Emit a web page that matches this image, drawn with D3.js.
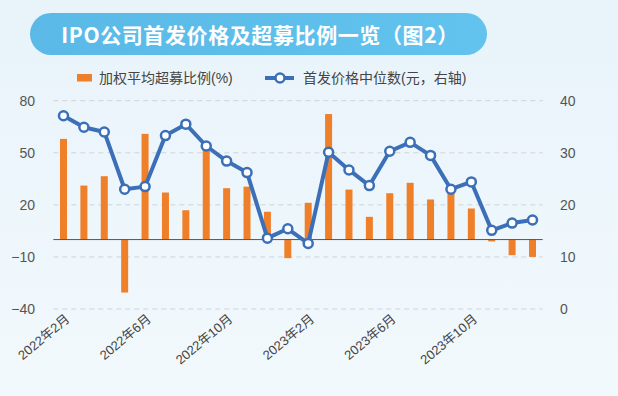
<!DOCTYPE html>
<html><head><meta charset="utf-8">
<script src="https://cdn.jsdelivr.net/npm/d3@7"></script>
<style>
html,body{margin:0;padding:0;background:#eef6fb;}
svg{display:block;}
</style></head>
<body>
<script>
const months = ["2022年2月","2022年3月","2022年4月","2022年5月","2022年6月","2022年7月","2022年8月","2022年9月","2022年10月","2022年11月","2022年12月","2023年1月","2023年2月","2023年3月","2023年4月","2023年5月","2023年6月","2023年7月","2023年8月","2023年9月","2023年10月","2023年11月","2023年12月","2024年1月"];
const overRaise = [58.0,31.1,36.5,-30.5,60.9,27.1,16.9,51.7,29.6,30.5,16.0,-10.7,21.2,72.3,28.8,13.1,26.7,32.7,23.1,26.7,17.9,-1.1,-9.0,-10.0];
const medianPrice = [37.1,34.9,34.0,23.0,23.5,33.3,35.5,31.3,28.4,26.2,13.6,15.4,12.6,30.1,26.7,23.7,30.3,32.0,29.5,23.0,24.4,15.1,16.5,17.1];
const leftTicks = [-40,-10,20,50,80];
const rightTicks = [0,10,20,30,40];
const tickMonths = ["2022年2月","2022年6月","2022年10月","2023年2月","2023年6月","2023年10月"];
const title = "IPO公司首发价格及超募比例一览（图2）";
const legendBar = "加权平均超募比例(%)";
const legendLine = "首发价格中位数(元，右轴)";

const W=618,H=396;
const orange="#f07f2a", blue="#3b6fb8";
const font="'Liberation Sans','Noto Sans CJK SC',sans-serif";

const svg=d3.select("body").append("svg").attr("width",W).attr("height",H);
const defs=svg.append("defs");
const bg=defs.append("linearGradient").attr("id","bg").attr("x1",0).attr("y1",0).attr("x2",0).attr("y2",1);
bg.append("stop").attr("offset","0%").attr("stop-color","#e8f3fa");
bg.append("stop").attr("offset","100%").attr("stop-color","#f2f9fd");
svg.append("rect").attr("width",W).attr("height",H).attr("fill","url(#bg)");

// title pill
const pg=defs.append("linearGradient").attr("id","pill").attr("x1",0).attr("y1",0).attr("x2",1).attr("y2",0);
pg.append("stop").attr("offset","0%").attr("stop-color","#5ab9e6");
pg.append("stop").attr("offset","100%").attr("stop-color","#62c3ee");
svg.append("rect").attr("x",30).attr("y",13).attr("width",457).attr("height",42).attr("rx",21)
  .attr("fill","url(#pill)");
svg.append("text").attr("x",260).attr("y",34).attr("text-anchor","middle").attr("dominant-baseline","central")
  .attr("fill","#fff").attr("font-family","'Noto Sans CJK SC',sans-serif").attr("font-weight","bold")
  .attr("font-size",21).attr("letter-spacing",0.6).text(title);

// scales
const x=d3.scaleBand().domain(months).range([53.3,542.7]).padding(0);
const yL=d3.scaleLinear().domain([-40,80]).range([309,100.7]);
const yR=d3.scaleLinear().domain([0,40]).range([309,100.7]);

// grid
svg.append("g").selectAll("line").data(leftTicks).join("line")
  .attr("x1",53.3).attr("x2",542.7).attr("y1",d=>yL(d)).attr("y2",d=>yL(d))
  .attr("stroke","#cfd4d8").attr("stroke-width",1).attr("stroke-dasharray","5,4");

// left axis
const axL=d3.axisLeft(yL).tickValues(leftTicks).tickSize(0).tickPadding(0)
  .tickFormat(d=>d<0?"\u2212"+Math.abs(d):d);
const gL=svg.append("g").attr("transform","translate(35,0)").call(axL);
gL.select(".domain").remove();
gL.selectAll("text").attr("font-size",14).attr("font-family",font).attr("fill","#555");

const axR=d3.axisRight(yR).tickValues(rightTicks).tickSize(0).tickPadding(0);
const gR=svg.append("g").attr("transform","translate(560,0)").call(axR);
gR.select(".domain").remove();
gR.selectAll("text").attr("font-size",14).attr("font-family",font).attr("fill","#555");

// bars
const bw=7;
svg.append("g").selectAll("rect").data(months).join("rect")
  .attr("x",(d)=>x(d)+x.bandwidth()/2-bw/2)
  .attr("width",bw)
  .attr("y",(d,i)=>Math.min(yL(overRaise[i]),yL(0)))
  .attr("height",(d,i)=>Math.abs(yL(overRaise[i])-yL(0)))
  .attr("fill",orange);

// zero line
svg.append("line").attr("x1",53.3).attr("x2",542.7).attr("y1",yL(0)).attr("y2",yL(0))
  .attr("stroke","#555").attr("stroke-width",1);

// x axis labels
const axB=d3.axisBottom(x).tickValues(tickMonths).tickSize(0).tickPadding(0);
const gB=svg.append("g").attr("transform","translate(0,317)").call(axB);
gB.select(".domain").remove();
gB.selectAll("text").attr("font-size",13).attr("font-family",font).attr("fill","#444")
  .attr("text-anchor","end").attr("dy","0.35em").attr("transform","translate(4,0) rotate(-40)");

// line
const line=d3.line().x((d,i)=>x(months[i])+x.bandwidth()/2).y(d=>yR(d));
svg.append("path").datum(medianPrice).attr("d",line).attr("fill","none")
  .attr("stroke",blue).attr("stroke-width",4).attr("stroke-linejoin","round");
svg.append("g").selectAll("circle").data(medianPrice).join("circle")
  .attr("cx",(d,i)=>x(months[i])+x.bandwidth()/2).attr("cy",d=>yR(d)).attr("r",4.5)
  .attr("fill","#fff").attr("stroke",blue).attr("stroke-width",2.5);

// legend
const lg=svg.append("g");
lg.append("rect").attr("x",77).attr("y",74).attr("width",15).attr("height",7.5).attr("fill",orange);
lg.append("text").attr("x",99).attr("y",78).attr("dominant-baseline","central").attr("font-size",14)
  .attr("font-family",font).attr("fill","#444").text(legendBar);
lg.append("line").attr("x1",265).attr("x2",294).attr("y1",78).attr("y2",78).attr("stroke",blue).attr("stroke-width",4);
lg.append("circle").attr("cx",280).attr("cy",78).attr("r",4.5).attr("fill","#fff").attr("stroke",blue).attr("stroke-width",2.5);
lg.append("text").attr("x",303).attr("y",78).attr("dominant-baseline","central").attr("font-size",14)
  .attr("font-family",font).attr("fill","#444").text(legendLine);
</script>
</body></html>
